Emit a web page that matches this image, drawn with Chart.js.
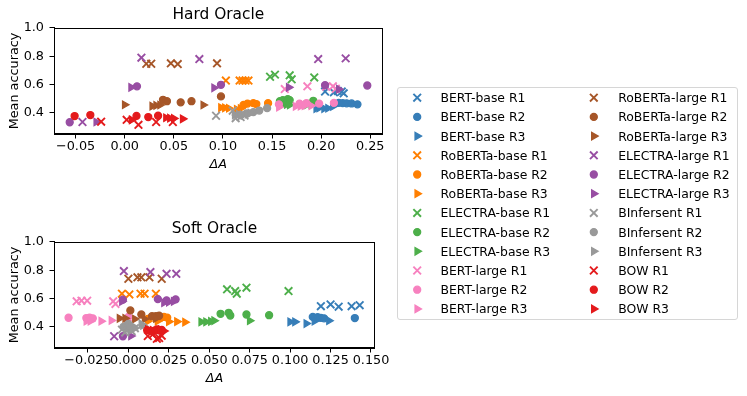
<!DOCTYPE html>
<html><head><meta charset="utf-8">
<script src="https://cdn.jsdelivr.net/npm/chart.js@4.4.0/dist/chart.umd.min.js"></script>
<style>
html,body{margin:0;padding:0;background:#fff;width:747px;height:396px;overflow:hidden;font-family:"DejaVu Sans",sans-serif;}
.cv{position:absolute;left:0;}
#legend{position:absolute;left:397px;top:87px;width:341px;height:233px;border:1px solid #d6d6d6;border-radius:3px;box-sizing:border-box;background:#fff;}
#legcv{position:absolute;left:0;top:0;}
.item{position:absolute;font-size:12.4px;line-height:15px;white-space:nowrap;color:#000;font-family:"DejaVu Sans",sans-serif;}
</style></head><body>
<canvas id="hard" class="cv" width="390" height="200" style="top:0px"></canvas>
<canvas id="soft" class="cv" width="390" height="200" style="top:214px"></canvas>
<div id="legend"><canvas id="legcv" width="339" height="231"></canvas></div>
<script>
// ---------- names ----------
const MODELS = ['BERT-base','RoBERTa-base','ELECTRA-base','BERT-large','RoBERTa-large','ELECTRA-large','BInfersent','BOW'];
const ROUNDS = ['R1','R2','R3'];
const MODEL_COLORS = ['#377eb8','#ff7f00','#4daf4a','#f781bf','#a65628','#984ea3','#999999','#e41a1c'];

// ---------- ticks ----------
const Y_TICKS = [0.4,0.6,0.8,1.0];
const Y_LABELS = ['0.4','0.6','0.8','1.0'];
const HARD_X_TICKS = [-0.05,0,0.05,0.10,0.15,0.20,0.25];
const HARD_X_LABELS = ['\u22120.05','0.00','0.05','0.10','0.15','0.20','0.25'];
const SOFT_X_TICKS = [-0.025,0,0.025,0.05,0.075,0.10,0.125,0.15];
const SOFT_X_LABELS = ['\u22120.025','0.000','0.025','0.050','0.075','0.100','0.125','0.150'];

// ---------- Hard Oracle data: [ΔA, mean accuracy] ----------
const hard_BERT_base_R1 = [[0.204,0.55],[0.213,0.545],[0.217,0.555],[0.221,0.55],[0.223,0.538]];
const hard_BERT_base_R2 = [[0.218,0.47],[0.222,0.468],[0.226,0.467],[0.231,0.466],[0.237,0.46]];
const hard_BERT_base_R3 = [[0.195,0.43],[0.198,0.435],[0.203,0.43],[0.207,0.432],[0.212,0.445]];
const hard_RoBERTa_base_R1 = [[0.103,0.628],[0.117,0.628],[0.120,0.628],[0.123,0.628],[0.126,0.628]];
const hard_RoBERTa_base_R2 = [[0.121,0.455],[0.125,0.465],[0.131,0.468],[0.134,0.462],[0.146,0.468]];
const hard_RoBERTa_base_R3 = [[0.098,0.437],[0.102,0.435],[0.106,0.432],[0.114,0.425],[0.118,0.43]];
const hard_ELECTRA_base_R1 = [[0.148,0.655],[0.153,0.67],[0.168,0.665],[0.170,0.637],[0.193,0.65]];
const hard_ELECTRA_base_R2 = [[0.158,0.482],[0.161,0.49],[0.166,0.497],[0.168,0.49],[0.192,0.485]];
const hard_ELECTRA_base_R3 = [[0.160,0.455],[0.165,0.46],[0.168,0.455],[0.185,0.455],[0.190,0.46]];
const hard_BERT_large_R1 = [[0.163,0.568],[0.186,0.587],[0.205,0.585],[0.212,0.587],[0.215,0.57]];
const hard_BERT_large_R2 = [[0.157,0.46],[0.178,0.465],[0.185,0.468],[0.198,0.465],[0.213,0.47]];
const hard_BERT_large_R3 = [[0.157,0.44],[0.174,0.445],[0.179,0.447],[0.183,0.45],[0.19,0.45]];
const hard_RoBERTa_large_R1 = [[0.022,0.747],[0.027,0.747],[0.047,0.75],[0.054,0.745],[0.094,0.75]];
const hard_RoBERTa_large_R2 = [[0.039,0.492],[0.043,0.482],[0.057,0.474],[0.068,0.482],[0.098,0.516]];
const hard_RoBERTa_large_R3 = [[0.0,0.457],[0.028,0.447],[0.032,0.452],[0.036,0.455],[0.080,0.455]];
const hard_ELECTRA_large_R1 = [[-0.043,0.335],[0.017,0.79],[0.076,0.78],[0.197,0.78],[0.225,0.785]];
const hard_ELECTRA_large_R2 = [[-0.056,0.333],[0.0125,0.587],[0.098,0.598],[0.204,0.595],[0.247,0.593]];
const hard_ELECTRA_large_R3 = [[-0.029,0.335],[0.0065,0.58],[0.091,0.577],[0.167,0.58],[0.218,0.567]];
const hard_BInfersent_R1 = [[0.093,0.379],[0.110,0.415],[0.113,0.362],[0.118,0.37],[0.122,0.38]];
const hard_BInfersent_R2 = [[0.118,0.385],[0.124,0.395],[0.131,0.405],[0.137,0.416],[0.145,0.433]];
const hard_BInfersent_R3 = [[0.112,0.385],[0.116,0.39],[0.12,0.385],[0.125,0.39],[0.128,0.398]];
const hard_BOW_R1 = [[-0.024,0.337],[0.002,0.35],[0.014,0.315],[0.032,0.335],[0.049,0.335]];
const hard_BOW_R2 = [[-0.051,0.377],[-0.035,0.384],[0.012,0.378],[0.024,0.37],[0.034,0.379]];
const hard_BOW_R3 = [[0.007,0.35],[0.042,0.365],[0.046,0.362],[0.050,0.36],[0.059,0.357]];

// ---------- Soft Oracle data ----------
const soft_BERT_base_R1 = [[0.119,0.546],[0.125,0.558],[0.130,0.542],[0.138,0.546],[0.143,0.553]];
const soft_BERT_base_R2 = [[0.114,0.47],[0.117,0.468],[0.119,0.463],[0.121,0.46],[0.140,0.462]];
const soft_BERT_base_R3 = [[0.100,0.435],[0.103,0.435],[0.110,0.423],[0.115,0.44],[0.124,0.443]];
const soft_RoBERTa_base_R1 = [[-0.004,0.634],[0.0006,0.629],[0.0075,0.634],[0.010,0.634],[0.017,0.634]];
const soft_RoBERTa_base_R2 = [[0.012,0.455],[0.017,0.46],[0.020,0.465],[0.022,0.47],[0.024,0.465]];
const soft_RoBERTa_base_R3 = [[0.012,0.44],[0.018,0.44],[0.025,0.437],[0.030,0.437],[0.035,0.433]];
const soft_ELECTRA_base_R1 = [[0.061,0.665],[0.066,0.653],[0.067,0.634],[0.073,0.677],[0.099,0.653]];
const soft_ELECTRA_base_R2 = [[0.057,0.492],[0.062,0.499],[0.063,0.48],[0.073,0.487],[0.087,0.482]];
const soft_ELECTRA_base_R3 = [[0.045,0.435],[0.048,0.435],[0.051,0.438],[0.053,0.443],[0.075,0.443]];
const soft_BERT_large_R1 = [[-0.032,0.58],[-0.029,0.585],[-0.0255,0.585],[-0.0094,0.58],[-0.008,0.562]];
const soft_BERT_large_R2 = [[-0.037,0.464],[-0.026,0.462],[-0.024,0.465],[-0.022,0.46],[0.0,0.47]];
const soft_BERT_large_R3 = [[-0.026,0.44],[-0.0235,0.44],[-0.0168,0.44],[-0.0105,0.445],[-0.001,0.445]];
const soft_RoBERTa_large_R1 = [[0.0,0.74],[0.0056,0.75],[0.008,0.75],[0.013,0.75],[0.0206,0.74]];
const soft_RoBERTa_large_R2 = [[0.0012,0.516],[0.008,0.487],[0.0146,0.475],[0.017,0.475],[0.019,0.478]];
const soft_RoBERTa_large_R3 = [[-0.0055,0.46],[-0.002,0.46],[0.004,0.455],[0.010,0.455],[0.017,0.46]];
const soft_ELECTRA_large_R1 = [[-0.0028,0.794],[0.0136,0.787],[0.0236,0.775],[0.0296,0.775],[-0.0088,0.333]];
const soft_ELECTRA_large_R2 = [[-0.0034,0.592],[0.0182,0.596],[0.0236,0.587],[0.0292,0.594],[-0.0034,0.333]];
const soft_ELECTRA_large_R3 = [[-0.004,0.58],[0.022,0.57],[0.025,0.575],[0.028,0.58],[0.0016,0.335]];
const soft_BInfersent_R1 = [[-0.004,0.38],[-0.002,0.36],[0.0,0.40],[0.002,0.37],[0.004,0.39]];
const soft_BInfersent_R2 = [[-0.003,0.40],[-0.001,0.41],[0.0,0.42],[0.002,0.39],[0.001,0.38]];
const soft_BInfersent_R3 = [[0.0,0.40],[0.002,0.41],[0.004,0.39],[0.008,0.42],[0.009,0.41]];
const soft_BOW_R1 = [[0.012,0.335],[0.015,0.345],[0.0176,0.315],[0.019,0.32],[0.0206,0.337]];
const soft_BOW_R2 = [[0.0116,0.376],[0.015,0.37],[0.0176,0.382],[0.019,0.375],[0.0206,0.378]];
const soft_BOW_R3 = [[0.012,0.38],[0.015,0.375],[0.017,0.37],[0.020,0.38],[0.022,0.37]];

const HARD_SERIES = [
  hard_BERT_base_R1,hard_BERT_base_R2,hard_BERT_base_R3,
  hard_RoBERTa_base_R1,hard_RoBERTa_base_R2,hard_RoBERTa_base_R3,
  hard_ELECTRA_base_R1,hard_ELECTRA_base_R2,hard_ELECTRA_base_R3,
  hard_BERT_large_R1,hard_BERT_large_R2,hard_BERT_large_R3,
  hard_RoBERTa_large_R1,hard_RoBERTa_large_R2,hard_RoBERTa_large_R3,
  hard_ELECTRA_large_R1,hard_ELECTRA_large_R2,hard_ELECTRA_large_R3,
  hard_BInfersent_R1,hard_BInfersent_R2,hard_BInfersent_R3,
  hard_BOW_R1,hard_BOW_R2,hard_BOW_R3];
const SOFT_SERIES = [
  soft_BERT_base_R1,soft_BERT_base_R2,soft_BERT_base_R3,
  soft_RoBERTa_base_R1,soft_RoBERTa_base_R2,soft_RoBERTa_base_R3,
  soft_ELECTRA_base_R1,soft_ELECTRA_base_R2,soft_ELECTRA_base_R3,
  soft_BERT_large_R1,soft_BERT_large_R2,soft_BERT_large_R3,
  soft_RoBERTa_large_R1,soft_RoBERTa_large_R2,soft_RoBERTa_large_R3,
  soft_ELECTRA_large_R1,soft_ELECTRA_large_R2,soft_ELECTRA_large_R3,
  soft_BInfersent_R1,soft_BInfersent_R2,soft_BInfersent_R3,
  soft_BOW_R1,soft_BOW_R2,soft_BOW_R3];

// ---------- styles ----------
const FONT = '"DejaVu Sans", sans-serif';
const MARKERS = [
  {pointStyle:'crossRot', radius:5.4, rotation:0, borderWidth:1.9},
  {pointStyle:'circle', radius:3.5, rotation:0, borderWidth:1.3},
  {pointStyle:'triangle', radius:4.3, rotation:90, borderWidth:1.3}
];
const LABELS = [];
MODELS.forEach(m => ROUNDS.forEach(r => LABELS.push(m + ' ' + r)));

function makeDatasets(series){
  return series.map((pts, i) => {
    const col = MODEL_COLORS[Math.floor(i/3)];
    const mk = MARKERS[i % 3];
    return {
      label: LABELS[i],
      data: pts.map(p => ({x:p[0], y:p[1]})),
      pointStyle: mk.pointStyle,
      pointRadius: mk.radius,
      pointRotation: mk.rotation,
      pointBorderWidth: mk.borderWidth,
      borderWidth: mk.borderWidth,
      backgroundColor: col,
      borderColor: col,
      pointBackgroundColor: col,
      pointBorderColor: col,
      showLine: false,
      order: series.length - i
    };
  });
}

const framePlugin = {
  id:'frame',
  afterDraw(chart){
    const {ctx, chartArea:a} = chart;
    ctx.save();
    ctx.strokeStyle = '#000';
    ctx.lineWidth = 1;
    ctx.strokeRect(Math.round(a.left)+0.5, Math.round(a.top)+0.5, Math.round(a.right-a.left)-1, Math.round(a.bottom-a.top)-1);
    ctx.restore();
  }
};

function makeChart(id, title, series, xmin, xmax, xticks, xlabels){
  const tickFont = {family:FONT, size:12.8};
  return new Chart(document.getElementById(id), {
    type:'scatter',
    data:{datasets: makeDatasets(series)},
    options:{
      responsive:false, animation:false, events:[],
      layout:{padding:{left:0,right:6,top:0,bottom:0}},
      plugins:{
        legend:{display:false}, tooltip:{enabled:false},
        title:{display:true, text:title, fullSize:false, color:'#000',
               font:{family:FONT, size:15.4, weight:'normal'}, padding:{top:6,bottom:3.5}}
      },
      scales:{
        x:{type:'linear', min:xmin, max:xmax,
           afterFit(s){ s.height = 66; },
           afterBuildTicks(s){ s.ticks = xticks.map(v => ({value:v})); },
           ticks:{autoSkip:false, maxRotation:0, minRotation:0, color:'#000', font:tickFont, padding:0.5,
                  callback:(v,i) => xlabels[i]},
           grid:{drawOnChartArea:false, drawTicks:true, tickLength:4.5, tickColor:'#000', tickWidth:1},
           border:{display:true, color:'#000', width:1},
           title:{display:true, text:'\u0394A', color:'#000', font:{family:FONT, size:12.8, style:'italic'}, padding:{top:0,bottom:27.3}}
        },
        y:{type:'linear', min:0.25, max:1.0,
           afterFit(s){ s.width = 54; },
           afterBuildTicks(s){ s.ticks = Y_TICKS.map(v => ({value:v})); },
           ticks:{autoSkip:false, color:'#000', font:tickFont, padding:5.5,
                  callback:(v,i) => Y_LABELS[i]},
           grid:{drawOnChartArea:false, drawTicks:true, tickLength:4.5, tickColor:'#000', tickWidth:1},
           border:{display:true, color:'#000', width:1},
           title:{display:true, text:'Mean accuracy', color:'#000', font:{family:FONT, size:12.8}, padding:{top:7.3,bottom:0}}
        }
      }
    },
    plugins:[framePlugin]
  });
}

makeChart('hard', 'Hard Oracle', HARD_SERIES, -0.072, 0.2627, HARD_X_TICKS, HARD_X_LABELS);
makeChart('soft', 'Soft Oracle', SOFT_SERIES, -0.046, 0.1524, SOFT_X_TICKS, SOFT_X_LABELS);

// ---------- legend ----------
(function(){
  const leg = document.getElementById('legend');
  const cv = document.getElementById('legcv');
  const ctx = cv.getContext('2d');
  LABELS.forEach((lab, i) => {
    const col = i < 12 ? 0 : 1, row = i % 12;
    const mx = col === 0 ? 19.2 : 195.8;
    const tx = col === 0 ? 42.5 : 220.2;
    const cy = 9.7 + row * 19.2;
    const color = MODEL_COLORS[Math.floor(i/3)];
    const mk = MARKERS[i % 3];
    ctx.fillStyle = color; ctx.strokeStyle = color; ctx.lineWidth = mk.borderWidth;
    Chart.helpers.drawPoint(ctx, {pointStyle:mk.pointStyle, radius:mk.radius, rotation:mk.rotation, borderWidth:mk.borderWidth}, mx, cy);
    const d = document.createElement('div');
    d.className = 'item';
    d.textContent = lab;
    d.style.left = tx + 'px';
    d.style.top = (cy - 7.5) + 'px';
    leg.appendChild(d);
  });
})();
</script>
</body></html>
